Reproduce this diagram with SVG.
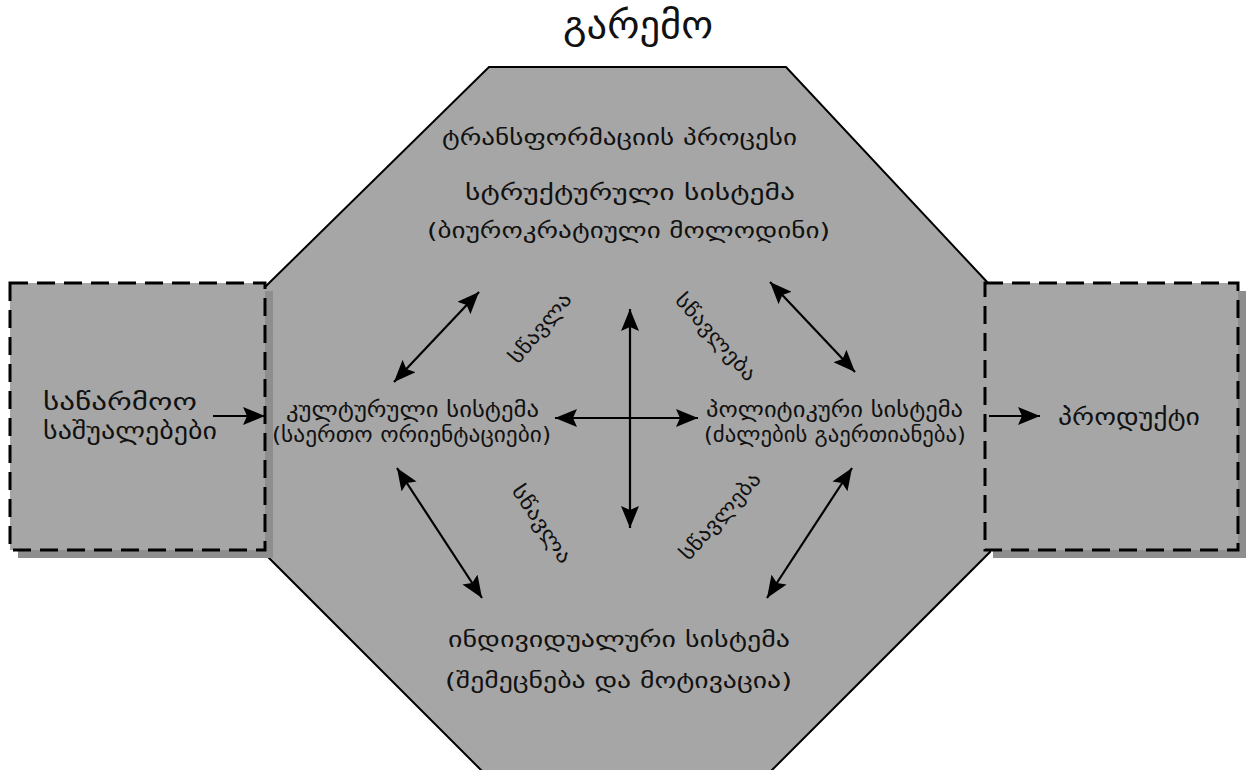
<svg xmlns="http://www.w3.org/2000/svg" width="1252" height="770" viewBox="0 0 1252 770">
  <style>
    .bg { fill: #ffffff; }
    .oct { fill: #a6a6a6; stroke: #000; stroke-width: 2; }
    .box { fill: #a6a6a6; stroke: #000; stroke-width: 3; stroke-dasharray: 18 9; }
    .shadow { fill: #8e8e8e; }
    .t { font-family: "DejaVu Sans", "Noto Sans", sans-serif; font-size: 22px; fill: #111; }
    .side { font-size: 24px; }
    .title { font-size: 38px; }
    .rot { font-size: 20px; text-anchor: middle; }
    .arr { stroke: #000; stroke-width: 2.2; fill: none; }
    .dbl { marker-start: url(#head); marker-end: url(#head); }
    .one { marker-end: url(#head); }
  </style>
  <defs>
    <marker id="head" markerUnits="userSpaceOnUse" markerWidth="22" markerHeight="18" refX="22" refY="9" orient="auto-start-reverse">
      <path d="M0,0 L22,9 L0,18 L4,9 z" fill="#000"/>
    </marker>
  </defs>

  <rect class="bg" x="0" y="0" width="1252" height="770"/>

  <!-- environment title -->
  <text class="t title" x="563" y="38" textLength="150" lengthAdjust="spacingAndGlyphs">გარემო</text>

  <!-- transformation process: octagon -->
  <g id="process">
    <polygon class="oct" points="489,67 786,67 988,283 990,552 762,780 491,780 263,552 263,289"/>
    <text class="t" x="442" y="145" textLength="355" lengthAdjust="spacingAndGlyphs">ტრანსფორმაციის პროცესი</text>
  </g>

  <!-- inputs -->
  <g id="inputs">
    <rect class="shadow" x="18" y="291" width="255" height="267"/>
    <rect class="box" x="10" y="283" width="255" height="267"/>
    <text class="t side" x="43" y="410" textLength="154" lengthAdjust="spacingAndGlyphs">საწარმოო</text>
    <text class="t side" x="43" y="439" textLength="174" lengthAdjust="spacingAndGlyphs">საშუალებები</text>
  </g>

  <!-- outputs -->
  <g id="outputs">
    <rect class="shadow" x="993" y="291" width="253" height="267"/>
    <rect class="box" x="985" y="283" width="253" height="267"/>
    <text class="t side" x="1058" y="425" textLength="142" lengthAdjust="spacingAndGlyphs">პროდუქტი</text>
  </g>

  <g id="structural">
    <text class="t" x="465" y="200" textLength="330" lengthAdjust="spacingAndGlyphs">სტრუქტურული სისტემა</text>
    <text class="t" x="427" y="238" textLength="403" lengthAdjust="spacingAndGlyphs">(ბიუროკრატიული მოლოდინი)</text>
  </g>

  <g id="cultural">
    <text class="t" x="286" y="417" textLength="253" lengthAdjust="spacingAndGlyphs">კულტურული სისტემა</text>
    <text class="t" x="272" y="442" textLength="279" lengthAdjust="spacingAndGlyphs">(საერთო ორიენტაციები)</text>
  </g>

  <g id="political">
    <text class="t" x="706" y="417" textLength="257" lengthAdjust="spacingAndGlyphs">პოლიტიკური სისტემა</text>
    <text class="t" x="704" y="442" textLength="262" lengthAdjust="spacingAndGlyphs">(ძალების გაერთიანება)</text>
  </g>

  <g id="individual">
    <text class="t" x="448" y="647" textLength="342" lengthAdjust="spacingAndGlyphs">ინდივიდუალური სისტემა</text>
    <text class="t" x="445" y="688" textLength="347" lengthAdjust="spacingAndGlyphs">(შემეცნება და მოტივაცია)</text>
  </g>

  <!-- connectors -->
  <g id="connectors">
    <line class="arr one" x1="213" y1="416" x2="265" y2="416"/>
    <line class="arr one" x1="989" y1="416" x2="1040" y2="416"/>
    <line class="arr dbl" x1="555" y1="418" x2="698" y2="418"/>
    <line class="arr dbl" x1="630" y1="309" x2="630" y2="528"/>
    <line class="arr dbl" x1="394" y1="382" x2="479" y2="292"/>
    <line class="arr dbl" x1="770" y1="282" x2="855" y2="372"/>
    <line class="arr dbl" x1="397" y1="468" x2="482" y2="598"/>
    <line class="arr dbl" x1="852" y1="468" x2="767" y2="598"/>
    <text class="t rot" transform="translate(540,328) rotate(-50)" dy="7" textLength="85" lengthAdjust="spacingAndGlyphs">სწავლა</text>
    <text class="t rot" transform="translate(716,337) rotate(48)" dy="7" textLength="110" lengthAdjust="spacingAndGlyphs">სწავლება</text>
    <text class="t rot" transform="translate(542,524) rotate(56)" dy="7" textLength="90" lengthAdjust="spacingAndGlyphs">სწავლა</text>
    <text class="t rot" transform="translate(720,516) rotate(-48)" dy="7" textLength="110" lengthAdjust="spacingAndGlyphs">სწავლება</text>
  </g>
</svg>
